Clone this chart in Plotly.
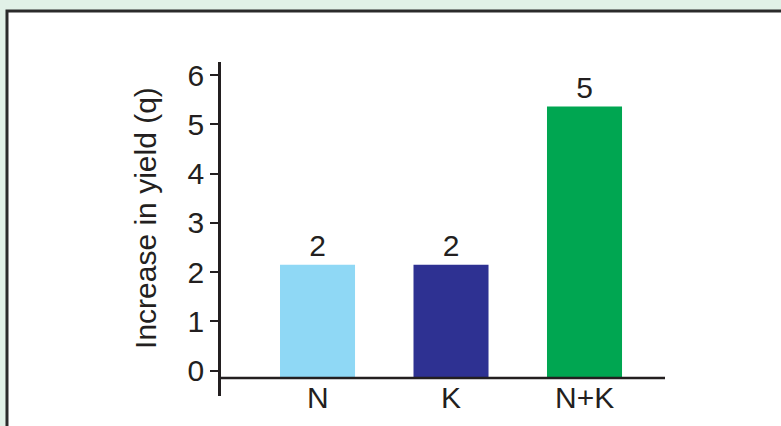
import plotly.graph_objects as go

# Yield response to fertiliser treatments
treatments = ["N", "K", "N+K"]
yield_increase = [2.15, 2.15, 5.36]
bar_colors = ["#8fd8f5", "#2e3192", "#00a651"]
y_ticks = [0, 1, 2, 3, 4, 5, 6]
y_title = "Increase in yield (q)"

AXIS_FLOOR = -0.15          # value where the category axis line sits
Y_RANGE = [-0.513, 6.264]
X_RANGE = [-0.723, 2.603]

INK = "#231f20"
FONT = "Liberation Sans, Arial, Helvetica, sans-serif"
SIZE = 30

fig = go.Figure()

fig.add_trace(go.Bar(
    x=treatments,
    y=[v - AXIS_FLOOR for v in yield_increase],
    base=AXIS_FLOOR,
    customdata=yield_increase,
    texttemplate="%{customdata:.0f}",
    textposition="outside",
    textfont=dict(size=SIZE, color=INK, family=FONT),
    marker=dict(color=bar_colors, line=dict(width=0)),
    width=0.562,
    cliponaxis=False,
    hovertemplate="%{x}: %{customdata}<extra></extra>",
))

# white framed panel behind the chart
fig.add_shape(type="rect", xref="paper", yref="paper",
              x0=-0.482, x1=1.4, y0=-0.2, y1=1.153,
              fillcolor="white", line=dict(color="#2b2b2b", width=3),
              layer="below")

# category axis line, drawn at the floor value
fig.add_shape(type="line", xref="paper", yref="y",
              x0=0, x1=1, y0=AXIS_FLOOR, y1=AXIS_FLOOR,
              line=dict(color=INK, width=2.5))

# category labels under the axis line
for t in treatments:
    fig.add_annotation(x=t, y=AXIS_FLOOR, xref="x", yref="y",
                       text=t, showarrow=False, yanchor="top", yshift=-1,
                       font=dict(size=SIZE, color=INK, family=FONT))

# vertical axis title
fig.add_annotation(x=-0.169, y=0.533, xref="paper", yref="paper",
                   text=y_title, textangle=-90, showarrow=False,
                   xanchor="center", yanchor="middle",
                   font=dict(size=SIZE, color=INK, family=FONT))

fig.update_layout(
    width=781, height=426,
    margin=dict(l=221, r=116, t=62, b=30),
    paper_bgcolor="#e1f1e7",
    plot_bgcolor="rgba(0,0,0,0)",
    showlegend=False,
    font=dict(family=FONT, color=INK),
    xaxis=dict(type="category", range=X_RANGE, showticklabels=False,
               showline=False, showgrid=False, zeroline=False, ticks=""),
    yaxis=dict(range=Y_RANGE, tickvals=y_ticks, ticks="outside", ticklen=8,
               tickwidth=2, tickcolor=INK, showline=True, linecolor=INK,
               linewidth=2.5, showgrid=False, zeroline=False,
               tickfont=dict(size=SIZE, color=INK, family=FONT)),
)

fig.write_html("out.html")
